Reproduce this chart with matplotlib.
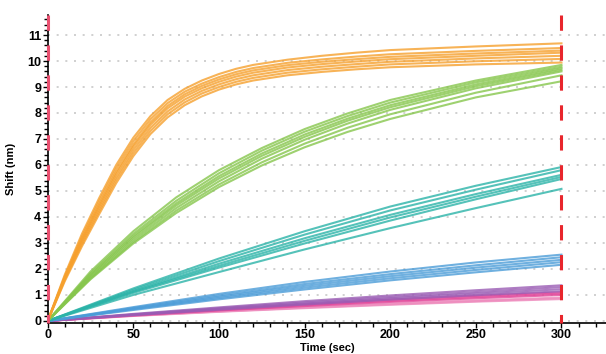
import matplotlib
matplotlib.use('Agg')
import matplotlib.pyplot as plt
from matplotlib.ticker import MultipleLocator

plt.rcParams['font.family'] = ['Liberation Sans Narrow', 'Liberation Sans', 'DejaVu Sans']
plt.rcParams['font.weight'] = 'bold'

# time grids (sec)
t_fast = [0, 10, 20, 30, 40, 50, 60, 70, 80, 90, 100, 110, 120, 140, 160, 180, 200, 250, 300]
t_mid = [0, 25, 50, 75, 100, 125, 150, 175, 200, 250, 300]
t_slow = [0, 50, 100, 150, 200, 250, 300]

# orange sensors (t_fast)
orange_1 = [0, 1.78, 3.35, 4.72, 6.00, 7.05, 7.88, 8.50, 8.93, 9.25, 9.50, 9.70, 9.85, 10.05, 10.20, 10.32, 10.42, 10.56, 10.68]
orange_2 = [0, 1.72, 3.25, 4.60, 5.87, 6.92, 7.76, 8.38, 8.82, 9.13, 9.38, 9.58, 9.73, 9.93, 10.06, 10.17, 10.26, 10.39, 10.50]
orange_3 = [0, 1.68, 3.16, 4.48, 5.74, 6.79, 7.64, 8.27, 8.72, 9.04, 9.29, 9.49, 9.64, 9.84, 9.97, 10.07, 10.16, 10.29, 10.40]
orange_4 = [0, 1.65, 3.10, 4.40, 5.65, 6.70, 7.55, 8.18, 8.63, 8.95, 9.20, 9.40, 9.55, 9.75, 9.88, 9.98, 10.07, 10.20, 10.32]
orange_5 = [0, 1.62, 3.03, 4.30, 5.53, 6.58, 7.43, 8.06, 8.52, 8.85, 9.10, 9.30, 9.45, 9.65, 9.78, 9.88, 9.97, 10.10, 10.20]
orange_6 = [0, 1.58, 2.95, 4.20, 5.42, 6.46, 7.31, 7.95, 8.41, 8.75, 9.00, 9.20, 9.35, 9.55, 9.68, 9.78, 9.87, 9.99, 10.08]
orange_7 = [0, 1.53, 2.87, 4.10, 5.30, 6.34, 7.19, 7.83, 8.30, 8.64, 8.90, 9.10, 9.25, 9.45, 9.58, 9.68, 9.76, 9.87, 9.94]

# green sensors (t_mid)
green_1 = [0, 1.90, 3.45, 4.75, 5.80, 6.65, 7.38, 7.98, 8.50, 9.25, 9.85]
green_2 = [0, 1.83, 3.35, 4.62, 5.68, 6.55, 7.28, 7.88, 8.40, 9.18, 9.78]
green_3 = [0, 1.78, 3.27, 4.52, 5.57, 6.44, 7.17, 7.78, 8.30, 9.10, 9.72]
green_4 = [0, 1.73, 3.20, 4.44, 5.48, 6.35, 7.08, 7.70, 8.22, 9.03, 9.66]
green_5 = [0, 1.68, 3.12, 4.34, 5.37, 6.24, 6.97, 7.59, 8.12, 8.95, 9.60]
green_6 = [0, 1.63, 3.04, 4.24, 5.25, 6.10, 6.82, 7.43, 7.95, 8.78, 9.45]
green_7 = [0, 1.60, 2.98, 4.15, 5.15, 5.98, 6.68, 7.27, 7.77, 8.60, 9.22]

# teal sensors (t_slow)
teal_1 = [0, 1.25, 2.40, 3.45, 4.40, 5.20, 5.92]
teal_2 = [0, 1.20, 2.30, 3.32, 4.25, 5.05, 5.80]
teal_3 = [0, 1.15, 2.20, 3.18, 4.08, 4.88, 5.62]
teal_4 = [0, 1.12, 2.12, 3.08, 3.98, 4.78, 5.54]
teal_5 = [0, 1.08, 2.05, 2.98, 3.86, 4.68, 5.46]
teal_6 = [0, 1.00, 1.88, 2.75, 3.57, 4.34, 5.08]

# blue sensors (t_slow)
blue_1 = [0, 0.53, 1.04, 1.50, 1.90, 2.25, 2.55]
blue_2 = [0, 0.50, 0.98, 1.42, 1.80, 2.14, 2.45]
blue_3 = [0, 0.47, 0.93, 1.35, 1.72, 2.05, 2.35]
blue_4 = [0, 0.45, 0.88, 1.28, 1.64, 1.96, 2.26]
blue_5 = [0, 0.42, 0.83, 1.21, 1.56, 1.87, 2.16]

# purple / magenta / pink sensors (t_slow)
purple_1 = [0, 0.27, 0.52, 0.76, 0.98, 1.18, 1.37]
purple_2 = [0, 0.25, 0.49, 0.71, 0.92, 1.11, 1.30]
purple_3 = [0, 0.24, 0.46, 0.67, 0.87, 1.05, 1.22]
purple_4 = [0, 0.22, 0.43, 0.63, 0.82, 0.99, 1.14]
magenta_1 = [0, 0.24, 0.45, 0.64, 0.82, 0.97, 1.10]
magenta_2 = [0, 0.22, 0.42, 0.60, 0.77, 0.92, 1.05]
magenta_3 = [0, 0.21, 0.40, 0.57, 0.73, 0.87, 1.00]
pink_1 = [0, 0.20, 0.37, 0.52, 0.66, 0.79, 0.90]
pink_2 = [0, 0.20, 0.36, 0.51, 0.64, 0.76, 0.87]
pink_3 = [0, 0.19, 0.35, 0.49, 0.62, 0.74, 0.84]

# step boundaries (sec)
step_times = [0, 300]

groups = [
    (t_slow, [pink_1, pink_2, pink_3], '#ee8dbe'),
    (t_slow, [magenta_1, magenta_2, magenta_3], '#e2479a'),
    (t_slow, [purple_1, purple_2, purple_3, purple_4], '#9a5cb4'),
    (t_slow, [blue_1, blue_2, blue_3, blue_4, blue_5], '#4b9cd8'),
    (t_slow, [teal_1, teal_2, teal_3, teal_4, teal_5, teal_6], '#2bb3a8'),
    (t_mid, [green_1, green_2, green_3, green_4, green_5, green_6, green_7], '#86c64c'),
    (t_fast, [orange_1, orange_2, orange_3, orange_4, orange_5, orange_6, orange_7], '#f6a02d'),
]

fig = plt.figure(figsize=(6.06, 3.54), dpi=100)
ax = fig.add_axes([0.0787, 0.0876, 0.9213, 0.87])

for t, curves, color in groups:
    for y in curves:
        ax.plot(t, y, color=color, lw=1.5, alpha=0.8, solid_joinstyle='round')

# red dashed step markers
for i, ts in enumerate(step_times):
    ax.plot([ts, ts], [11.77, -0.08], color='#e8262c' if i else '#ea5070',
            lw=2.2, linestyle=(0, (5.0, 4.8)), clip_on=False, zorder=5)

ax.set_xlim(0, 326)
ax.set_ylim(-0.08, 11.77)

ax.set_xticks(range(0, 301, 50))
ax.xaxis.set_minor_locator(MultipleLocator(10))
ax.set_yticks(range(0, 12))
ax.yaxis.set_minor_locator(MultipleLocator(0.2))
ax.tick_params(which='major', length=3.8, width=1, labelsize=9, pad=0.8)
ax.tick_params(which='minor', length=3, width=1)

ax.yaxis.grid(True, which='major', linestyle=(0, (1.2, 4.0)), color='#c8c8c8', lw=1.2)
ax.set_axisbelow(True)

for side in ['top', 'right']:
    ax.spines[side].set_visible(False)
for side in ['left', 'bottom']:
    ax.spines[side].set_linewidth(1.2)

ax.set_xlabel('Time (sec)', fontsize=8, fontweight='bold')
ax.xaxis.set_label_coords(0.5, -0.098)
ax.xaxis.label.set_va('bottom')
ax.set_ylabel('Shift (nm)', fontsize=8, fontweight='bold')
ax.yaxis.set_label_coords(-0.056, 0.5)

fig.savefig('out.png', dpi=100)
